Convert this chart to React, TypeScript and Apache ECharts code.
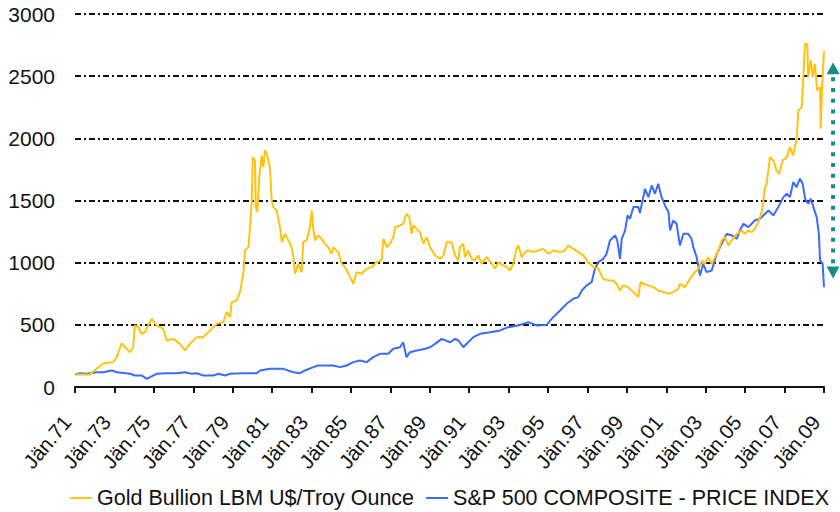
import React, { useEffect, useRef } from "react";
import * as echarts from "echarts";

const xTickLabels = [
  "Jän.71", "Jän.73", "Jän.75", "Jän.77", "Jän.79", "Jän.81", "Jän.83", "Jän.85", "Jän.87", "Jän.89",
  "Jän.91", "Jän.93", "Jän.95", "Jän.97", "Jän.99", "Jän.01", "Jän.03", "Jän.05", "Jän.07", "Jän.09",
];

const goldYears = [
  1971.0, 1971.76, 1972.1, 1972.43, 1972.93, 1973.12, 1973.37, 1973.62, 1973.79, 1973.95,
  1974.04, 1974.21, 1974.38, 1974.55, 1974.71, 1974.9, 1975.14, 1975.48, 1975.66, 1975.99,
  1976.33, 1976.58, 1976.83, 1977.18, 1977.51, 1977.85, 1978.19, 1978.52, 1978.7, 1978.87,
  1978.95, 1979.21, 1979.37, 1979.54, 1979.63, 1979.8, 1979.88, 1979.97, 1980.02, 1980.13,
  1980.17, 1980.25, 1980.35, 1980.47, 1980.56, 1980.64, 1980.73, 1980.89, 1980.98, 1981.06,
  1981.23, 1981.4, 1981.49, 1981.65, 1981.82, 1981.99, 1982.08, 1982.16, 1982.33, 1982.5,
  1982.58, 1982.75, 1982.92, 1983.01, 1983.09, 1983.18, 1983.34, 1983.51, 1983.68, 1983.85,
  1984.02, 1984.1, 1984.36, 1984.53, 1984.7, 1984.87, 1985.04, 1985.12, 1985.29, 1985.54,
  1985.8, 1986.06, 1986.3, 1986.56, 1986.64, 1986.82, 1986.98, 1987.15, 1987.24, 1987.49,
  1987.65, 1987.82, 1987.96, 1988.08, 1988.17, 1988.34, 1988.5, 1988.67, 1988.84, 1989.01,
  1989.27, 1989.52, 1989.69, 1989.86, 1990.11, 1990.28, 1990.45, 1990.53, 1990.7, 1990.79,
  1990.95, 1991.13, 1991.29, 1991.46, 1991.63, 1991.89, 1992.14, 1992.31, 1992.48, 1992.73,
  1992.9, 1993.07, 1993.24, 1993.37, 1993.49, 1993.67, 1993.83, 1994.0, 1994.26, 1994.5,
  1994.76, 1995.02, 1995.26, 1995.61, 1995.86, 1996.02, 1996.28, 1996.54, 1996.79, 1997.04,
  1997.3, 1997.55, 1997.8, 1998.06, 1998.31, 1998.48, 1998.65, 1998.82, 1999.07, 1999.33,
  1999.58, 1999.69, 1999.83, 2000.09, 2000.34, 2000.59, 2000.85, 2001.11, 2001.35, 2001.61,
  2001.69, 2001.95, 2002.2, 2002.45, 2002.63, 2002.8, 2002.96, 2003.13, 2003.3, 2003.47,
  2003.64, 2003.81, 2003.97, 2004.15, 2004.32, 2004.57, 2004.82, 2004.99, 2005.16, 2005.33,
  2005.49, 2005.67, 2005.84, 2006.01, 2006.09, 2006.26, 2006.43, 2006.6, 2006.73, 2006.9,
  2007.11, 2007.27, 2007.44, 2007.61, 2007.7, 2007.87, 2007.95, 2008.04, 2008.15, 2008.2,
  2008.33, 2008.43, 2008.54, 2008.65, 2008.8, 2008.83, 2008.91, 2009.0,
];

const goldValues = [
  100, 100, 146, 189, 200, 240, 352, 307, 280, 320,
  495, 481, 428, 441, 495, 549, 495, 468, 374, 387,
  347, 294, 347, 401, 401, 455, 508, 522, 602, 562,
  682, 696, 763, 911, 1098, 1125, 1286, 1500, 1849, 1822,
  1447, 1407, 1688, 1862, 1768, 1903, 1876, 1768, 1500, 1447,
  1420, 1286, 1165, 1232, 1179, 1125, 1044, 911, 991, 924,
  1165, 1179, 1286, 1420, 1272, 1179, 1219, 1192, 1152, 1125,
  1071, 1125, 1085, 991, 964, 911, 857, 830, 924, 911,
  951, 964, 1004, 1018, 1192, 1125, 1152, 1205, 1286, 1299,
  1313, 1393, 1366, 1232, 1299, 1272, 1246, 1152, 1205, 1125,
  1058, 1031, 1058, 1165, 1165, 1058, 1018, 1125, 1152, 1044,
  1098, 1031, 1018, 1058, 991, 1044, 991, 951, 1004, 978,
  964, 937, 991, 1098, 1138, 1044, 1085, 1098, 1085, 1098,
  1111, 1071, 1098, 1085, 1098, 1138, 1111, 1085, 1058, 1004,
  964, 951, 870, 857, 857, 830, 776, 817, 803, 763,
  723, 843, 830, 817, 803, 776, 763, 750, 763, 790,
  830, 803, 870, 924, 951, 1018, 991, 1044, 991, 1044,
  1098, 1179, 1205, 1138, 1179, 1232, 1259, 1232, 1259, 1246,
  1272, 1326, 1407, 1608, 1634, 1849, 1822, 1741, 1715, 1822,
  1849, 1929, 1862, 1997, 2224, 2251, 2492, 2761, 2761, 2492,
  2627, 2492, 2600, 2385, 2412, 2077, 2439, 2700,
];

const spxYears = [
  1971.0, 1971.26, 1971.59, 1972.1, 1972.43, 1972.87, 1973.12, 1973.79, 1974.04, 1974.38,
  1974.64, 1974.81, 1975.14, 1975.66, 1976.16, 1976.58, 1976.92, 1977.18, 1977.51, 1978.02,
  1978.28, 1978.61, 1978.87, 1979.54, 1980.22, 1980.39, 1980.89, 1981.56, 1982.08, 1982.42,
  1982.67, 1983.09, 1983.34, 1984.1, 1984.44, 1984.78, 1985.12, 1985.46, 1985.8, 1986.13,
  1986.48, 1986.89, 1987.15, 1987.49, 1987.65, 1987.82, 1987.99, 1988.34, 1988.76, 1989.01,
  1989.27, 1989.6, 1990.03, 1990.28, 1990.45, 1990.7, 1990.95, 1991.21, 1991.55, 1992.05,
  1992.57, 1992.98, 1993.49, 1994.0, 1994.42, 1994.93, 1995.26, 1995.61, 1995.94, 1996.28,
  1996.54, 1996.71, 1996.96, 1997.21, 1997.38, 1997.55, 1997.8, 1997.97, 1998.14, 1998.4,
  1998.51, 1998.65, 1998.74, 1998.91, 1999.03, 1999.16, 1999.33, 1999.58, 1999.66, 1999.92,
  2000.09, 2000.26, 2000.42, 2000.59, 2000.76, 2000.93, 2001.11, 2001.19, 2001.35, 2001.52,
  2001.69, 2001.87, 2002.11, 2002.28, 2002.37, 2002.54, 2002.71, 2002.87, 2003.04, 2003.3,
  2003.56, 2003.81, 2004.06, 2004.32, 2004.57, 2004.73, 2004.91, 2005.16, 2005.49, 2005.75,
  2005.92, 2006.18, 2006.43, 2006.68, 2006.94, 2007.11, 2007.27, 2007.44, 2007.61, 2007.78,
  2007.92, 2008.04, 2008.2, 2008.33, 2008.46, 2008.63, 2008.74, 2008.8, 2008.93, 2009.0,
];

const spxValues = [
  100, 111, 107, 119, 119, 133, 119, 106, 93, 93,
  66, 79, 106, 111, 111, 119, 106, 111, 93, 93,
  106, 93, 106, 111, 111, 133, 146, 146, 119, 111,
  133, 160, 173, 173, 160, 173, 200, 213, 200, 240,
  267, 267, 307, 320, 360, 240, 280, 294, 307, 320,
  347, 387, 360, 387, 374, 320, 360, 401, 428, 441,
  455, 481, 495, 522, 495, 500, 562, 615, 669, 710,
  723, 776, 817, 843, 951, 1004, 1031, 1071, 1179, 1219,
  1179, 1031, 1192, 1259, 1380, 1353, 1447, 1447, 1400, 1594,
  1527, 1621, 1554, 1634, 1527, 1460, 1407, 1259, 1339, 1313,
  1138, 1232, 1232, 1192, 1125, 1044, 897, 991, 924, 937,
  1071, 1152, 1232, 1219, 1192, 1259, 1313, 1286, 1339, 1353,
  1380, 1420, 1380, 1447, 1527, 1554, 1527, 1648, 1608, 1675,
  1634, 1514, 1474, 1514, 1447, 1366, 1232, 1018, 991, 803,
];

const arrowX = 2009.46;
const arrowTop = 2611;
const arrowBottom = 873;

const FONT = "'Liberation Sans', Arial, sans-serif";
const GOLD = "#FFC20E";
const BLUE = "#3A6BFF";
const TEAL = "#1B8C85";

export default function App() {
  const ref = useRef<HTMLDivElement>(null);

  useEffect(() => {
    document.body.style.margin = "0";
    if (!ref.current) return;
    const chart = echarts.init(ref.current, null, { renderer: "svg" });
    const option: any = {
      animation: false,
      backgroundColor: "#ffffff",
      textStyle: { fontFamily: FONT },
      grid: { left: 75, right: 16, top: 14, bottom: 125, outerBoundsMode: "none" },
      legend: {
        left: 70,
        top: 487,
        padding: 0,
        icon: "rect",
        itemWidth: 22,
        itemHeight: 2,
        itemGap: 12,
        textStyle: { fontSize: 21.5, color: "#111", fontFamily: FONT },
        data: ["Gold Bullion LBM U$/Troy Ounce", "S&P 500 COMPOSITE - PRICE INDEX"],
      },
      xAxis: {
        type: "value",
        min: 1971,
        max: 2009,
        interval: 2,
        axisLine: { show: true, lineStyle: { color: "#111", width: 2 } },
        axisTick: { show: true, length: 6, lineStyle: { color: "#111", width: 2 } },
        splitLine: { show: false },
        axisLabel: {
          rotate: 50,
          margin: 38,
          align: "right",
          verticalAlign: "bottom",
          fontSize: 20.5,
          color: "#111",
          fontFamily: FONT,
          showMinLabel: true,
          showMaxLabel: true,
          formatter: (v: number) => {
            const i = Math.round((v - 1971) / 2);
            return xTickLabels[i] ?? "";
          },
        },
      },
      yAxis: {
        type: "value",
        min: 0,
        max: 3000,
        interval: 500,
        axisLine: { show: false },
        axisTick: { show: false },
        axisLabel: {
          fontSize: 21,
          color: "#111",
          margin: 20,
          fontFamily: FONT,
          formatter: (v: number) => String(v),
        },
        splitLine: {
          show: true,
          lineStyle: { color: "#111", width: 2, type: [6, 3, 2, 3] },
        },
      },
      series: [
        {
          name: "Gold Bullion LBM U$/Troy Ounce",
          type: "line",
          showSymbol: false,
          symbol: "none",
          color: GOLD,
          lineStyle: { color: GOLD, width: 2 },
          data: goldYears.map((y, i) => [y, goldValues[i]]),
          z: 3,
        },
        {
          name: "S&P 500 COMPOSITE - PRICE INDEX",
          type: "line",
          showSymbol: false,
          symbol: "none",
          color: BLUE,
          lineStyle: { color: BLUE, width: 2 },
          data: spxYears.map((y, i) => [y, spxValues[i]]),
          z: 2,
        },
      ],
    };
    chart.setOption(option);

    const pTop = chart.convertToPixel({ gridIndex: 0 }, [arrowX, arrowTop]) as number[];
    const pBot = chart.convertToPixel({ gridIndex: 0 }, [arrowX, arrowBottom]) as number[];
    const ax = pTop[0];
    const head = 12;
    const half = 6.5;
    chart.setOption({
      graphic: [
        {
          type: "line",
          shape: { x1: ax, y1: pTop[1] + head + 3, x2: ax, y2: pBot[1] - head - 3 },
          style: { stroke: TEAL, lineWidth: 4, lineDash: [4, 6.7] },
          z: 10,
        },
        {
          type: "polygon",
          shape: { points: [[ax, pTop[1]], [ax - half, pTop[1] + head], [ax + half, pTop[1] + head]] },
          style: { fill: TEAL },
          z: 10,
        },
        {
          type: "polygon",
          shape: { points: [[ax, pBot[1]], [ax - half, pBot[1] - head], [ax + half, pBot[1] - head]] },
          style: { fill: TEAL },
          z: 10,
        },
      ],
    });

    return () => chart.dispose();
  }, []);

  return <div ref={ref} style={{ width: 840, height: 512 }} />;
}
